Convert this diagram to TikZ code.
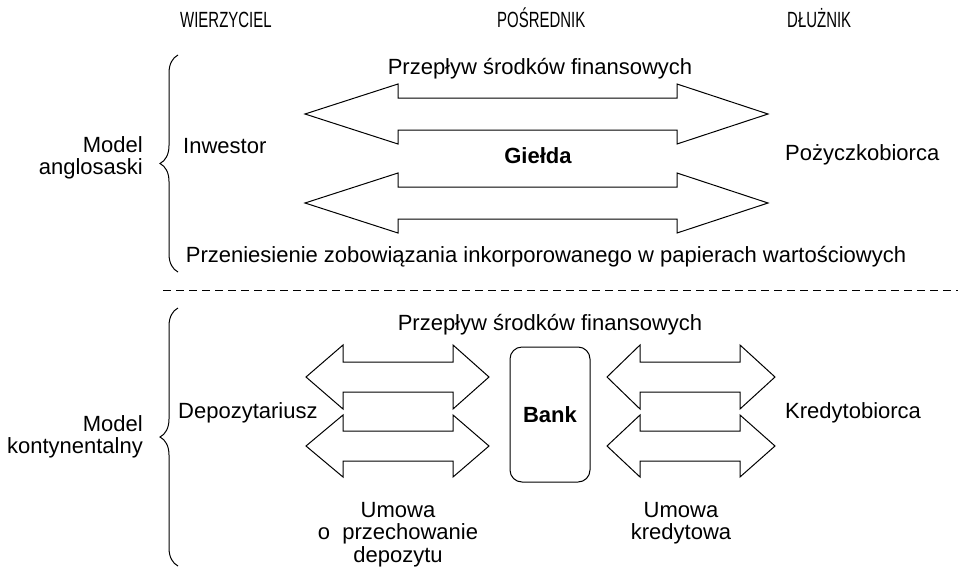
\documentclass[tikz,border=0pt]{standalone}
\usepackage{fontspec}
\setmainfont{Liberation Sans}
\usetikzlibrary{decorations.pathreplacing}

% flat two-headed arrow: left tip, shaft start, shaft end, right tip, y, shaft half, head half
\newcommand{\fatarrow}[7]{%
  \draw[arrowline] (#1,#5) -- (#2,#5-#7) -- (#2,#5-#6) -- (#3,#5-#6) -- (#3,#5-#7)
    -- (#4,#5) -- (#3,#5+#7) -- (#3,#5+#6) -- (#2,#5+#6) -- (#2,#5+#7) -- cycle;}
\newcommand{\narrowcaps}[1]{\scalebox{0.68}[1]{#1}}

\begin{document}
\begin{tikzpicture}[x=1pt, y=-1pt,
  txt/.style={font=\fontsize{22}{22.5}\selectfont, inner sep=0pt},
  headtxt/.style={font=\fontsize{22}{24}\selectfont, inner sep=0pt},
  arrowline/.style={line width=1pt, line join=miter},
  bracket/.style={decorate, decoration={brace, amplitude=18pt}, line width=1pt}]

\useasboundingbox (0,0) rectangle (958,568);

% column headings
\node[headtxt, anchor=base west] (wierz) at (180,27) {\narrowcaps{WIERZYCIEL}};
\node[headtxt, anchor=base west] (posr) at (497,27) {\narrowcaps{POŚREDNIK}};
\node[headtxt, anchor=base west] (dluz) at (787,27) {\narrowcaps{DŁUŻNIK}};

% model anglosaski
\draw[bracket] (178,272) -- (178,55);
\node[txt, anchor=north east, align=right] (anglo) at (143,136) {Model\\anglosaski};
\node[txt, anchor=base] (flowA) at (540,74) {Przepływ środków finansowych};
\fatarrow{305}{398}{677}{768}{114}{16}{30}
\fatarrow{305}{398}{677}{768}{203}{16}{30}
\node[txt, anchor=base west] (inw) at (183,153) {Inwestor};
\node[txt, anchor=base, font=\fontsize{22}{22.5}\selectfont\bfseries] (gielda) at (538,163) {Giełda};
\node[txt, anchor=base west] (poz) at (785,160) {Pożyczkobiorca};
\node[txt, anchor=base] (przen) at (546,262) {Przeniesienie zobowiązania inkorporowanego w papierach wartościowych};

% separator
\draw[line width=1pt, dash pattern=on 8pt off 5pt] (163,290) -- (958,290);

% model kontynentalny
\draw[bracket] (178,566) -- (178,308);
\node[txt, anchor=north east, align=right] (konty) at (143,415) {Model\\kontynentalny};
\node[txt, anchor=base] (flowB) at (550,330) {Przepływ środków finansowych};
\foreach \yy/\hh in {377/32, 446/31} {
  \fatarrow{306}{343}{453}{489}{\yy}{15}{\hh}
  \fatarrow{607}{640}{740}{775}{\yy}{15}{\hh}
}
\node[txt, draw, line width=1pt, rounded corners=12pt, minimum width=80pt, minimum height=135pt,
  font=\fontsize{22}{22.5}\selectfont\bfseries] (bank) at (550,414.5) {Bank};
\node[txt, anchor=base west] (depo) at (178,418) {Depozytariusz};
\node[txt, anchor=base west] (kred) at (785,418) {Kredytobiorca};
\node[txt, anchor=north, align=center] (umowaA) at (398,502) {Umowa\\o\ \ przechowanie\\depozytu};
\node[txt, anchor=north, align=center] (umowaB) at (681,502) {Umowa\\kredytowa};
\end{tikzpicture}
\end{document}
